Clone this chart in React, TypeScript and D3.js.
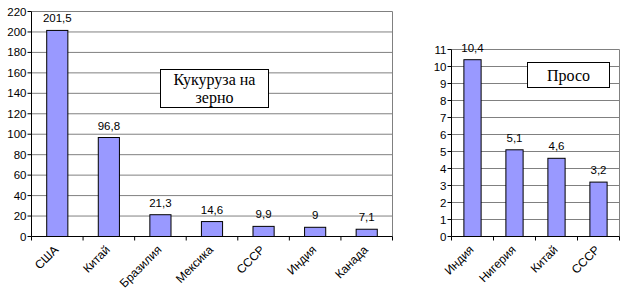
import React from "react";
import * as d3 from "d3";

const cornCategories = ["США", "Китай", "Бразилия", "Мексика", "СССР", "Индия", "Канада"];
const cornValues = [201.5, 96.8, 21.3, 14.6, 9.9, 9, 7.1];
const cornLabels = ["201,5", "96,8", "21,3", "14,6", "9,9", "9", "7,1"];
const cornTicks = [0, 20, 40, 60, 80, 100, 120, 140, 160, 180, 200, 220];

const milletCategories = ["Индия", "Нигерия", "Китай", "СССР"];
const milletValues = [10.4, 5.1, 4.6, 3.2];
const milletLabels = ["10,4", "5,1", "4,6", "3,2"];
const milletTicks = [0, 1, 2, 3, 4, 5, 6, 7, 8, 9, 10, 11];

type PanelProps = {
  cats: string[];
  vals: number[];
  labels: string[];
  ticks: number[];
  x0: number;
  x1: number;
  y0: number;
  y1: number;
  max: number;
  barFrac: number;
  title: string[];
  box: { x: number; y: number; w: number; h: number };
};

function Panel(p: PanelProps) {
  const x = d3.scaleBand<string>().domain(p.cats).range([p.x0, p.x1]).paddingInner(1 - p.barFrac).paddingOuter((1 - p.barFrac) / 2);
  const band = d3.scaleBand<string>().domain(p.cats).range([p.x0, p.x1]);
  const y = d3.scaleLinear().domain([0, p.max]).range([p.y1, p.y0]);
  const font = "Arial, 'Liberation Sans', sans-serif";
  return (
    <g>
      {p.ticks.map((t) => (
        <g key={"g" + t}>
          {t > 0 && <line x1={p.x0} x2={p.x1} y1={y(t)} y2={y(t)} stroke="#808080" strokeWidth={1} />}
          <line x1={p.x0 - 4} x2={p.x0} y1={y(t)} y2={y(t)} stroke="#000" strokeWidth={1} />
          <text x={p.x0 - 5} y={y(t)} dy="0.35em" textAnchor="end" fontFamily={font} fontSize={11.5} fill="#000">
            {t}
          </text>
        </g>
      ))}
      <line x1={p.x1} x2={p.x1} y1={p.y0} y2={p.y1} stroke="#808080" strokeWidth={1} />
      {p.cats.map((c, i) => (
        <g key={c}>
          <rect x={x(c)} y={y(p.vals[i])} width={x.bandwidth()} height={p.y1 - y(p.vals[i])} fill="#9999FF" stroke="#000" strokeWidth={1} />
          <text x={x(c)! + x.bandwidth() / 2} y={y(p.vals[i]) - 8} textAnchor="middle" fontFamily={font} fontSize={11.5} fill="#000">
            {p.labels[i]}
          </text>
          <text
            transform={`translate(${band(c)! + band.bandwidth() / 2 - 1},${p.y1 + 11}) rotate(-45)`}
            textAnchor="end"
            dy="0.35em"
            fontFamily={font}
            fontSize={12}
            fill="#000"
          >
            {c}
          </text>
        </g>
      ))}
      {[...p.cats.map((c) => band(c)!), p.x1].map((tx, i) => (
        <line key={"t" + i} x1={tx} x2={tx} y1={p.y1} y2={p.y1 + 4} stroke="#000" strokeWidth={1} />
      ))}
      <line x1={p.x0} x2={p.x0} y1={p.y0} y2={p.y1} stroke="#000" strokeWidth={1} />
      <line x1={p.x0} x2={p.x1} y1={p.y1} y2={p.y1} stroke="#000" strokeWidth={1} />
      <rect x={p.box.x} y={p.box.y} width={p.box.w} height={p.box.h} fill="#fff" stroke="#000" strokeWidth={1} />
      {p.title.map((t, i) => (
        <text
          key={t}
          x={p.box.x + p.box.w / 2}
          y={p.box.y + p.box.h / 2 + (i - (p.title.length - 1) / 2) * 18}
          dy="0.35em"
          textAnchor="middle"
          fontFamily="'Liberation Serif', 'Times New Roman', serif"
          fontSize={16}
          fill="#000"
        >
          {t}
        </text>
      ))}
    </g>
  );
}

export default function App() {
  return (
    <svg width={632} height={293} style={{ position: "absolute", left: 0, top: 0, background: "#fff" }}>
      <rect x={0} y={0} width={632} height={293} fill="#fff" />
      <Panel
        cats={cornCategories}
        vals={cornValues}
        labels={cornLabels}
        ticks={cornTicks}
        x0={31.5}
        x1={392.5}
        y0={11.5}
        y1={236.5}
        max={220}
        barFrac={0.41}
        title={["Кукуруза на", "зерно"]}
        box={{ x: 160.5, y: 69.5, w: 108, h: 38 }}
      />
      <Panel
        cats={milletCategories}
        vals={milletValues}
        labels={milletLabels}
        ticks={milletTicks}
        x0={451.5}
        x1={619.5}
        y0={49.5}
        y1={236.5}
        max={11}
        barFrac={0.41}
        title={["Просо"]}
        box={{ x: 527.5, y: 62.5, w: 82, h: 25 }}
      />
    </svg>
  );
}
